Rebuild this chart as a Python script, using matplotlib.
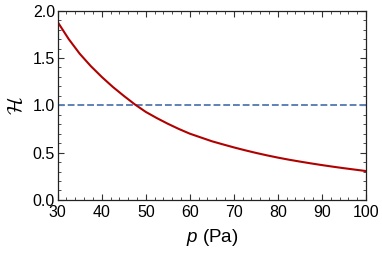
import numpy as np
import matplotlib
matplotlib.use('Agg')
import matplotlib.pyplot as plt
from matplotlib.ticker import MultipleLocator, FormatStrFormatter

plt.rcParams['font.family'] = ['Liberation Sans', 'DejaVu Sans']
plt.rcParams['mathtext.fontset'] = 'custom'
plt.rcParams['mathtext.it'] = 'Liberation Sans:italic'
plt.rcParams['mathtext.rm'] = 'Liberation Sans'
plt.rcParams['mathtext.cal'] = 'cmsy10'

# values
pressure = [30, 32.5, 35, 37.5, 40, 42.5, 45, 47.5, 50, 52.5, 55, 57.5, 60, 62.5,
            65, 67.5, 70, 72.5, 75, 77.5, 80, 82.5, 85, 87.5, 90, 92.5, 95, 97.5, 100]
H_values = [1.88, 1.70, 1.545, 1.415, 1.30, 1.195, 1.10, 1.01, 0.93, 0.865, 0.805, 0.75,
            0.70, 0.66, 0.62, 0.587, 0.555, 0.525, 0.497, 0.471, 0.447, 0.425, 0.405,
            0.386, 0.368, 0.351, 0.335, 0.32, 0.305]
H_threshold = 1.0

fig = plt.figure(figsize=(3.82, 2.54), dpi=100)
ax = fig.add_axes([0.151, 0.213, 0.807, 0.745])

ax.axhline(H_threshold, color='#5E81B5', lw=1.4, ls=(0, (3.5, 1.5)))
ax.plot(pressure, H_values, color='#B00000', lw=1.5)

ax.set_xlim(30, 100)
ax.set_ylim(0, 2.0)
ax.xaxis.set_major_locator(MultipleLocator(10))
ax.xaxis.set_minor_locator(MultipleLocator(2))
ax.yaxis.set_major_locator(MultipleLocator(0.5))
ax.yaxis.set_minor_locator(MultipleLocator(0.1))
ax.yaxis.set_major_formatter(FormatStrFormatter('%.1f'))

ax.tick_params(which='both', direction='in', top=True, right=True, labelsize=11.5, color='#333333')
ax.tick_params(which='major', length=4, width=0.8, pad=2)
ax.tick_params(axis='x', which='major', pad=3.5)
ax.tick_params(which='minor', length=2, width=0.6)
for s in ax.spines.values():
    s.set_color('#222222')
    s.set_linewidth(0.9)

ax.set_xlabel(r'$p$ (Pa)', fontsize=13.5, labelpad=5)
ax.set_ylabel(r'$\mathcal{H}$', fontsize=15, labelpad=4)

fig.savefig('out.png', dpi=100)
